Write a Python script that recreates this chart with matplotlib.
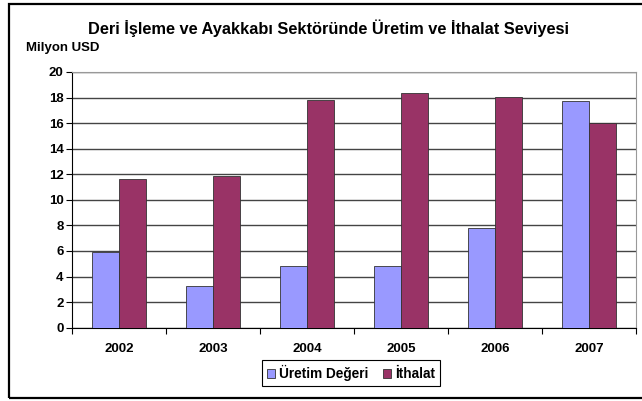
import matplotlib
matplotlib.use("Agg")
import matplotlib.pyplot as plt
from matplotlib.patches import Rectangle
import numpy as np

plt.rcParams['font.family'] = ['Liberation Sans', 'DejaVu Sans']
plt.rcParams['font.weight'] = 'bold'

years = ["2002", "2003", "2004", "2005", "2006", "2007"]
uretim = [5.9, 3.3, 4.84, 4.79, 7.8, 17.75]
ithalat = [11.65, 11.88, 17.82, 18.39, 18.03, 16.0]

title = "Deri İşleme ve Ayakkabı Sektöründe Üretim ve İthalat Seviyesi"
blue = "#9999FF"
red = "#993366"

fig = plt.figure(figsize=(6.42, 4.01), dpi=100)
ax = fig.add_axes([72 / 642, 1 - 327.7 / 401, (636 - 72) / 642, (327.7 - 72) / 401])

x = np.arange(len(years))
w = 0.283
ax.bar(x - w / 2, uretim, w, color=blue, edgecolor="#333333", linewidth=0.6,
       label="Üretim Değeri", zorder=3)
ax.bar(x + w / 2, ithalat, w, color=red, edgecolor="#333333", linewidth=0.6,
       label="İthalat", zorder=3)

ax.set_xlim(-0.5, len(years) - 0.5)
ax.set_ylim(0, 20)
ax.set_yticks(np.arange(0, 21, 2))
ax.yaxis.grid(True, color="#444444", linewidth=1.0, zorder=0)

# tick marks on category boundaries, labels centred
ax.set_xticks(np.arange(-0.5, len(years), 1.0))
ax.set_xticklabels([])
ax.set_xticks(x, minor=True)
ax.set_xticklabels(years, minor=True)
ax.tick_params(axis="x", which="major", length=4, width=0.8, direction="out")
ax.tick_params(axis="x", which="minor", length=0, pad=11, labelsize=9.5)
ax.tick_params(axis="y", length=4, width=0.8, direction="out", labelsize=9.5, pad=2)

for side in ["top", "right"]:
    ax.spines[side].set_color("#999999")
    ax.spines[side].set_linewidth(0.8)
for side in ["left", "bottom"]:
    ax.spines[side].set_color("black")
    ax.spines[side].set_linewidth(0.8)

fig.text(0.511, 1 - 28 / 401, title, ha="center", va="center", fontsize=11.8, fontweight="bold")
fig.text(26 / 642, 1 - 48 / 401, "Milyon USD", ha="left", va="center", fontsize=9.5, fontweight="bold")

leg = fig.legend(loc="center", bbox_to_anchor=(351 / 642, 1 - 373 / 401), ncol=2,
                 fancybox=False, edgecolor="black", framealpha=1, fontsize=9.8,
                 handlelength=0.6, handleheight=0.6, handletextpad=0.3,
                 columnspacing=1.1, borderpad=0.35, borderaxespad=0)
leg.get_frame().set_linewidth(0.8)

# outer chart border
fig.patches.append(Rectangle((9 / 642, 1 - 398 / 401), 1.0, (398 - 4) / 401,
                             transform=fig.transFigure, fill=False,
                             edgecolor="black", linewidth=1.6))

fig.savefig("out.png", dpi=100)
